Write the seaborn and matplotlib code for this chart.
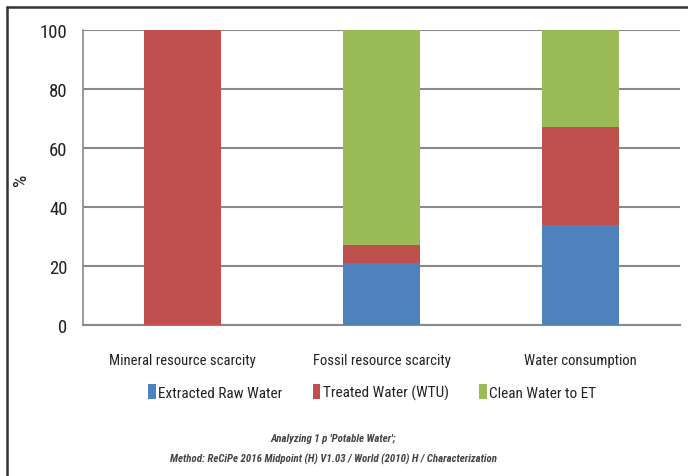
import matplotlib
matplotlib.use('Agg')
import matplotlib.pyplot as plt
from matplotlib import font_manager
from matplotlib.lines import Line2D
from matplotlib.patches import Patch
import seaborn as sns
import pandas as pd
import numpy as np

categories = ['Mineral resource scarcity', 'Fossil resource scarcity', 'Water consumption']
extracted = [0, 21, 34]
treated = [100, 6, 33]
clean = [0, 73, 33]
series = ['Extracted Raw Water', 'Treated Water (WTU)', 'Clean Water to ET']
colors = ['#4F81BD', '#C0504D', '#9BBB59']

sns.set_style('white')
# pick a narrow face if one is around, else Liberation Sans
have = {f.name for f in font_manager.fontManager.ttflist}
narrow = [n for n in ['Liberation Sans Narrow', 'DejaVu Sans Condensed', 'Roboto Condensed',
                      'Open Sans Condensed', 'Liberation Sans'] if n in have]
plt.rcParams['font.family'] = narrow[:1] + ['DejaVu Sans']

df = pd.DataFrame({'cat': categories, 'ext': extracted, 'trt': treated, 'cln': clean})
df['lvl1'] = df['ext']
df['lvl2'] = df['ext'] + df['trt']
df['lvl3'] = df['lvl2'] + df['cln']

fig = plt.figure(figsize=(6.88, 4.77), dpi=100)
ax = fig.add_axes([83 / 688, 1 - 326 / 477, 597 / 688, 295 / 477])

# overlapping cumulative bars give the stacked look
for col, c in zip(['lvl3', 'lvl2', 'lvl1'], colors[::-1]):
    sns.barplot(data=df, x='cat', y=col, color=c, width=0.39, ax=ax,
                saturation=1, zorder=3, linewidth=0, edgecolor='none')

ax.set_ylim(0, 100)
ax.set_xlim(-0.5, 2.5)
ax.set_yticks(np.arange(0, 101, 20))
ax.yaxis.grid(True, color='#8a8a8a', linewidth=1.5, zorder=0)
ax.set_axisbelow(True)
for s in ['top', 'right']:
    ax.spines[s].set_visible(False)
ax.spines['left'].set_color('#8a8a8a')
ax.spines['bottom'].set_color('#8a8a8a')
ax.spines['left'].set_linewidth(1.2)
ax.spines['bottom'].set_linewidth(1.5)

ax.set_xticks([0, 1, 2])
ax.set_xticklabels(categories, fontsize=10.5, color='#222222')
ax.set_xticks([-0.5, 0.5, 1.5, 2.5], minor=True)
ax.tick_params(axis='x', which='major', length=0, pad=20)
ax.tick_params(axis='x', which='minor', length=6, color='#8a8a8a', width=1.2, direction='out')
ax.tick_params(axis='y', length=5, color='#8a8a8a', width=1.2, direction='out', labelsize=13.5,
               pad=6, labelcolor='#222222')
ax.set_xlabel('')
ax.set_ylabel('%', fontsize=14, color='#222222')
ax.yaxis.set_label_coords(-(83 - 30) / 597, (326 - 180) / 295)

handles = [Patch(facecolor=c, edgecolor='none') for c in colors]
fig.legend(handles, series, loc='center', bbox_to_anchor=(372 / 688, 1 - 393 / 477),
           ncol=3, frameon=False, fontsize=11, handlelength=0.5, handleheight=1.1,
           handletextpad=0.15, columnspacing=2.0, labelcolor='#222222')

fig.text(333 / 688, 1 - 439 / 477, "Analyzing 1 p 'Potable Water';", ha='center', va='center',
         fontsize=7.8, style='italic', weight='bold', color='#444444')
fig.text(333 / 688, 1 - 459 / 477, 'Method: ReCiPe 2016 Midpoint (H) V1.03 / World (2010) H / Characterization',
         ha='center', va='center', fontsize=7.8, style='italic', weight='bold', color='#444444')

# outer frame of the picture
fig.add_artist(Line2D([7 / 688, 7 / 688], [0, 1 - 8 / 477], transform=fig.transFigure,
                      color='#333333', linewidth=1.8))
fig.add_artist(Line2D([7 / 688, 1], [1 - 8 / 477, 1 - 8 / 477], transform=fig.transFigure,
                      color='#333333', linewidth=1.8))

fig.savefig('out.png', dpi=100)
